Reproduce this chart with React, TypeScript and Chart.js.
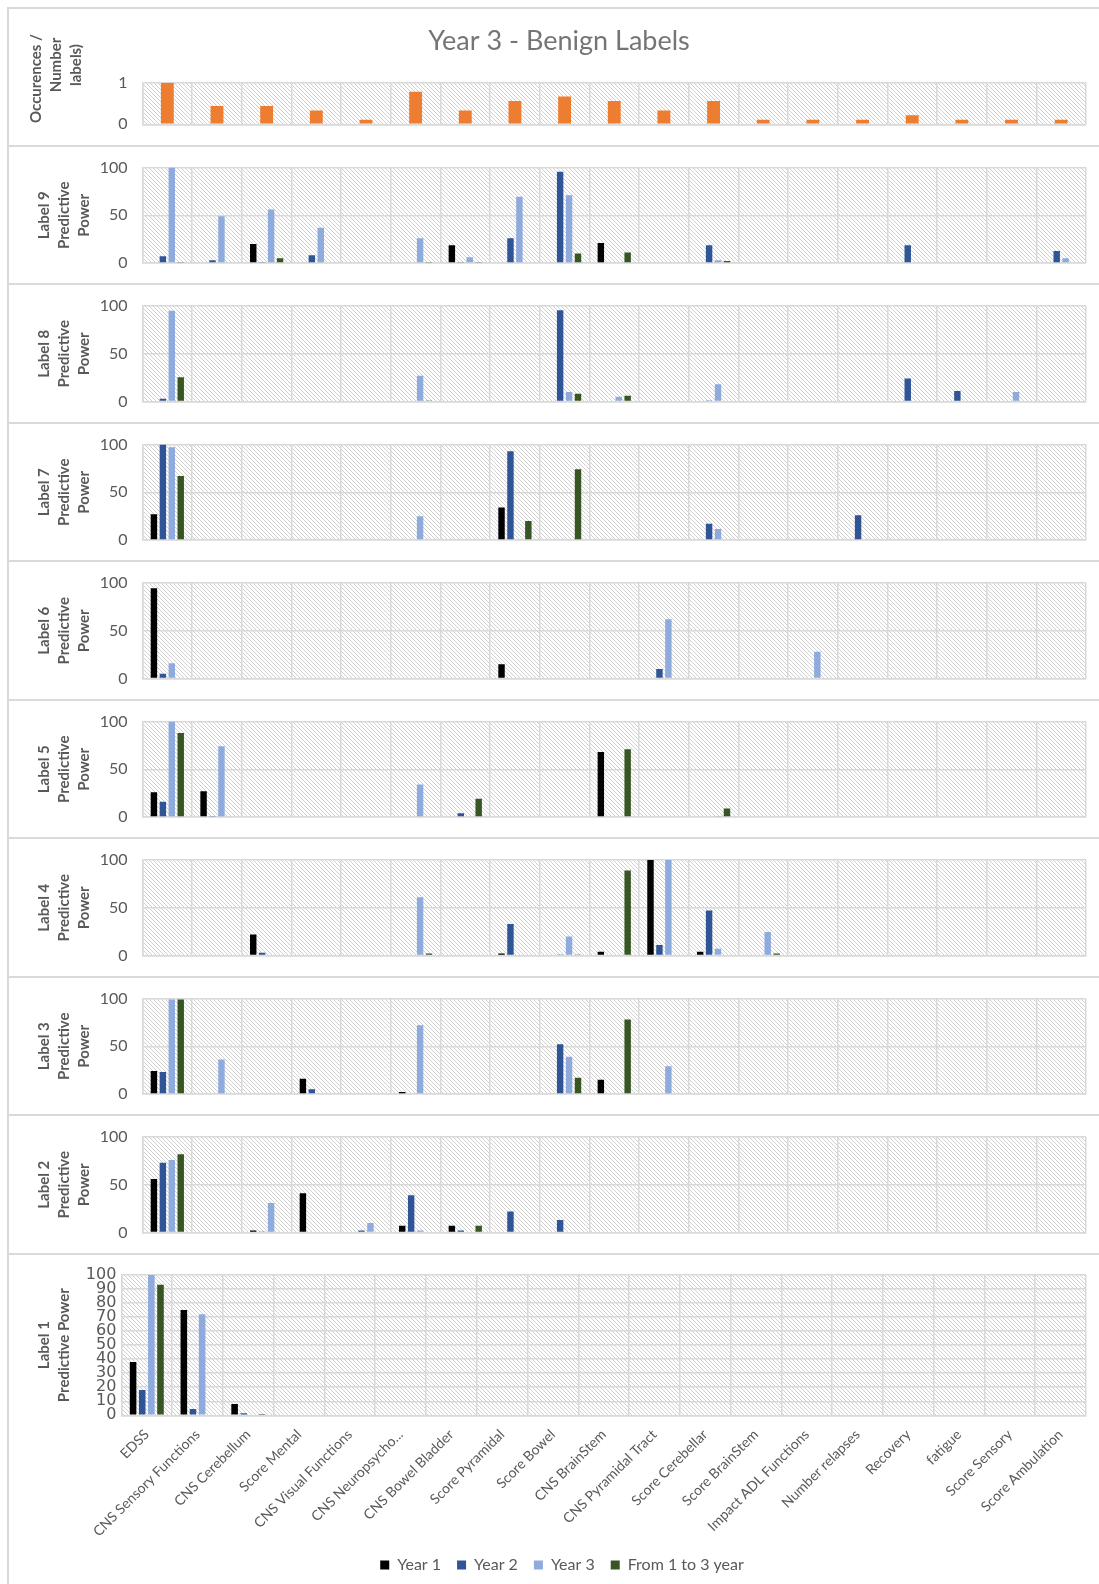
import React, { useEffect, useRef } from 'react';
import { Chart, registerables } from 'chart.js';

Chart.register(...registerables);
Chart.defaults.font.family = 'Lato, "Open Sans", sans-serif';

const n = null;

const categories = [
  'EDSS', 'CNS Sensory Functions', 'CNS Cerebellum', 'Score Mental', 'CNS Visual Functions',
  'CNS Neuropsycho...', 'CNS Bowel Bladder', 'Score Pyramidal', 'Score Bowel', 'CNS BrainStem',
  'CNS Pyramidal Tract', 'Score Cerebellar', 'Score BrainStem', 'Impact ADL Functions',
  'Number relapses', 'Recovery', 'fatigue', 'Score Sensory', 'Score Ambulation',
];

const seriesNames = ['Year 1', 'Year 2', 'Year 3', 'From 1 to 3 year'];
const seriesColors = ['#000000', '#2F5597', '#8FAADC', '#375623'];

const chartTitle = 'Year 3 - Benign Labels';
const occurrencesTitle = ['Occurences /', 'Number', 'labels)'];
const occurrences = [1, 0.44, 0.44, 0.33, 0.11, 0.78, 0.33, 0.56, 0.67, 0.56, 0.33, 0.56, 0.11, 0.11, 0.11, 0.22, 0.11, 0.11, 0.11];

const label9Year1 = [n, n, 20, n, n, n, 18.5, n, n, 21, n, n, n, n, n, n, n, n, n];
const label9Year2 = [7, 3, 1, 8, n, n, 1, 26, 95.5, n, n, 18.5, n, n, n, 18.5, n, n, 12.5];
const label9Year3 = [100, 49, 56, 37, n, 26, 6, 69.5, 71, n, n, 3, n, n, n, n, n, n, 5];
const label9From1To3 = [1, n, 5, n, n, 1, 1, n, 10, 11, n, 2, n, n, n, n, n, n, n];

const label8Year1 = [n, n, n, n, n, n, n, n, n, n, n, n, n, n, n, n, n, n, n];
const label8Year2 = [3, n, n, n, n, n, n, n, 95.5, n, n, 1, n, n, n, 24, 11, n, n];
const label8Year3 = [95, n, n, n, n, 27, n, n, 10, 5, n, 18, n, n, n, n, n, 10, n];
const label8From1To3 = [25.5, n, n, n, n, 1, n, n, 8, 6, n, n, n, n, n, n, n, n, n];

const label7Year1 = [27, n, n, n, n, n, n, 34, n, n, n, n, n, n, n, n, n, n, n];
const label7Year2 = [100, n, n, n, n, n, n, 93, n, n, n, 17, n, n, 26, n, n, n, n];
const label7Year3 = [97, n, n, n, n, 25, n, n, n, n, n, 11.5, n, n, n, n, n, n, n];
const label7From1To3 = [67, n, n, n, n, n, n, 20, 74, n, n, n, n, n, n, n, n, n, n];

const label6Year1 = [94.5, n, n, n, n, n, n, 15, n, n, 0.7, n, n, n, n, n, n, n, n];
const label6Year2 = [5, n, n, n, n, n, n, n, n, n, 10, n, n, n, n, n, n, n, n];
const label6Year3 = [16, n, n, n, n, n, n, n, n, n, 62, n, n, 28, n, n, n, n, n];
const label6From1To3 = [n, n, n, n, n, n, n, n, n, n, n, n, n, n, n, n, n, n, n];

const label5Year1 = [26, 27, n, n, n, n, n, n, n, 68, n, n, n, n, n, n, n, n, n];
const label5Year2 = [16, 1, n, n, n, n, 4, n, n, n, n, n, n, n, n, n, n, n, n];
const label5Year3 = [100, 74, n, n, n, 34, n, n, n, n, n, 1, n, n, n, n, n, n, n];
const label5From1To3 = [88, n, n, n, n, n, 19, n, n, 71, n, 9, n, n, n, n, n, n, n];

const label4Year1 = [n, n, 22, n, n, n, n, 2, n, 4, 100, 4, n, n, n, n, n, n, n];
const label4Year2 = [n, n, 3, n, n, n, n, 33, 1, n, 11, 47, n, n, n, n, n, n, n];
const label4Year3 = [n, n, n, n, n, 61, n, n, 20, n, 100, 7, 24.5, n, n, n, n, n, n];
const label4From1To3 = [n, n, n, n, n, 2, n, n, 1, 89, n, n, 2, n, n, n, n, n, n];

const label3Year1 = [24, n, n, 16, n, 2, n, n, n, 15, n, n, n, n, n, n, n, n, n];
const label3Year2 = [23, n, n, 5, n, n, n, n, 52, n, n, n, n, n, n, n, n, n, n];
const label3Year3 = [99, 36, n, n, n, 72, n, n, 39, n, 29, n, n, n, n, n, n, n, n];
const label3From1To3 = [99, n, n, n, n, n, n, n, 17, 78, n, n, n, n, n, n, n, n, n];

const label2Year1 = [56, n, 2, 41, n, 7, 7, n, n, n, n, n, n, n, n, n, n, n, n];
const label2Year2 = [73, n, 1, n, 2, 39, 2, 22, 13, n, n, n, n, n, n, n, n, n, n];
const label2Year3 = [76, n, 31, n, 10, 2, n, n, n, n, n, n, n, n, n, n, n, n, n];
const label2From1To3 = [82, n, n, n, n, n, 7, n, n, n, n, n, n, n, n, n, n, n, n];

const label1Year1 = [38, 75, 8, n, n, n, n, n, n, n, n, n, n, n, n, n, n, n, n];
const label1Year2 = [18, 4.5, 1.5, n, n, n, n, n, n, n, n, n, n, n, n, n, n, n, n];
const label1Year3 = [100, 72, n, n, n, n, n, n, n, n, n, n, n, n, n, n, n, n, n];
const label1From1To3 = [93, n, 1, n, n, n, n, n, n, n, n, n, n, n, n, n, n, n, n];

const upperPanels = [
  { title: ['Label 9', 'Predictive', 'Power'], series: [label9Year1, label9Year2, label9Year3, label9From1To3] },
  { title: ['Label 8', 'Predictive', 'Power'], series: [label8Year1, label8Year2, label8Year3, label8From1To3] },
  { title: ['Label 7', 'Predictive', 'Power'], series: [label7Year1, label7Year2, label7Year3, label7From1To3] },
  { title: ['Label 6', 'Predictive', 'Power'], series: [label6Year1, label6Year2, label6Year3, label6From1To3] },
  { title: ['Label 5', 'Predictive', 'Power'], series: [label5Year1, label5Year2, label5Year3, label5From1To3] },
  { title: ['Label 4', 'Predictive', 'Power'], series: [label4Year1, label4Year2, label4Year3, label4From1To3] },
  { title: ['Label 3', 'Predictive', 'Power'], series: [label3Year1, label3Year2, label3Year3, label3From1To3] },
  { title: ['Label 2', 'Predictive', 'Power'], series: [label2Year1, label2Year2, label2Year3, label2From1To3] },
];
const bottomTitle = ['Label 1', 'Predictive Power'];
const bottomSeries = [label1Year1, label1Year2, label1Year3, label1From1To3];

// ---- layout (page coordinates) ----
const W = 1091;
const LEFT = 8;
const GRID = '#D9D9D9';
const TICK = '#595959';
const ORANGE = '#ED7D31';
const SEPS = [145.5, 284, 422.5, 561, 699.5, 838, 976.5, 1115, 1253.5];

function makeHatch(ctx: CanvasRenderingContext2D) {
  const c = document.createElement('canvas');
  c.width = 4;
  c.height = 4;
  const g = c.getContext('2d')!;
  g.fillStyle = '#ffffff';
  g.fillRect(0, 0, 4, 4);
  g.fillStyle = '#D0D0D0';
  for (let i = 0; i < 4; i++) g.fillRect(i, i, 1, 1);
  return ctx.createPattern(c, 'repeat');
}

const hatchPlugin = {
  id: 'hatch',
  beforeDraw(chart: any) {
    const { ctx, chartArea: a } = chart;
    if (!a) return;
    ctx.save();
    ctx.fillStyle = makeHatch(ctx);
    ctx.fillRect(a.left, a.top, a.right - a.left, a.bottom - a.top);
    ctx.restore();
  },
};

function xScale(showTicks: boolean, height: number) {
  return {
    grid: { offset: true, color: GRID, lineWidth: 1.5, drawTicks: false },
    border: { color: GRID, width: 1.5 },
    ticks: showTicks
      ? { display: true, autoSkip: false, maxRotation: 45, minRotation: 45, padding: 11, color: TICK, font: { size: 14 } }
      : { display: false },
    afterFit: (s: any) => { s.height = height; },
  };
}

function yScale(max: number, step: number, title: string[] | null, width: number, pad: number, font: any) {
  return {
    min: 0,
    max,
    ticks: { stepSize: step, padding: pad, color: TICK, font, autoSkip: false },
    grid: { color: GRID, lineWidth: 1.5, drawTicks: false },
    border: { color: GRID, width: 1.5 },
    title: title
      ? { display: true, text: title, color: TICK, font: { size: 15, weight: 'bold', lineHeight: 1.333 }, padding: { top: 26.6, bottom: 0 } }
      : { display: false },
    afterFit: (s: any) => {
      s.width = width;
      s.paddingTop = 0;
      s.paddingBottom = 0;
    },
  };
}

function seriesDatasets(series: (number | null)[][]) {
  return seriesNames.map((name, i) => ({
    label: name,
    data: series[i],
    backgroundColor: seriesColors[i],
    borderWidth: 0,
    categoryPercentage: 0.72,
    barPercentage: 0.72,
  }));
}

function ChartPanel({ top, height, build }: { top: number; height: number; build: () => any }) {
  const ref = useRef<HTMLCanvasElement>(null);
  useEffect(() => {
    const chart = new Chart(ref.current as HTMLCanvasElement, build());
    return () => chart.destroy();
  }, []);
  return (
    <div style={{ position: 'absolute', left: LEFT, top, width: W, height }}>
      <canvas ref={ref} width={W} height={height} style={{ display: 'block' }} />
    </div>
  );
}

// Panel 1 (occurrences)
const P1_TOP = 9;
const P1_BOTTOM = 145;
function buildOccurrences() {
  const occTitlePlugin = {
    id: 'occTitle',
    afterDraw(chart: any) {
      const ctx = chart.ctx;
      const pos = [[36, 78.5], [56, 65], [76, 65]];
      ctx.save();
      ctx.fillStyle = TICK;
      ctx.font = 'bold 15px Lato';
      ctx.textAlign = 'center';
      ctx.textBaseline = 'middle';
      occurrencesTitle.forEach((t, i) => {
        ctx.save();
        ctx.translate(pos[i][0] - LEFT, pos[i][1] - P1_TOP);
        ctx.rotate(-Math.PI / 2);
        ctx.fillText(t, 0, 0);
        ctx.restore();
      });
      ctx.restore();
    },
  };
  const titleShift = {
    id: 'titleShift',
    afterLayout(chart: any) {
      if (chart.titleBlock) {
        chart.titleBlock.left += 12;
        chart.titleBlock.right += 12;
      }
    },
  };
  return {
    type: 'bar',
    data: {
      labels: categories,
      datasets: [{ label: 'Occurences', data: occurrences, backgroundColor: ORANGE, borderWidth: 0, categoryPercentage: 0.72, barPercentage: 0.36 }],
    },
    options: {
      responsive: false,
      animation: false,
      events: [],
      layout: { padding: { left: 0, right: 13, top: 0, bottom: P1_BOTTOM - 124.3 } },
      plugins: {
        legend: { display: false },
        tooltip: { enabled: false },
        title: { display: true, text: chartTitle, color: '#757575', font: { size: 27, weight: 'normal', lineHeight: 1.2 }, padding: { top: 16.2, bottom: 25.1 } },
      },
      scales: {
        x: xScale(false, 0),
        y: yScale(1, 1, null, 134.5, 15, { size: 16 }),
      },
    },
    plugins: [hatchPlugin, occTitlePlugin, titleShift],
  };
}

function buildUpper(idx: number, top: number, bottom: number) {
  const p = upperPanels[idx];
  const plotTop = SEPS[idx] + 22;
  const plotBottom = SEPS[idx] + 117.5;
  return {
    type: 'bar',
    data: { labels: categories, datasets: seriesDatasets(p.series) },
    options: {
      responsive: false,
      animation: false,
      events: [],
      layout: { padding: { left: 0, right: 13, top: plotTop - top, bottom: bottom - plotBottom } },
      plugins: { legend: { display: false }, tooltip: { enabled: false }, title: { display: false } },
      scales: {
        x: xScale(false, 0),
        y: yScale(100, 50, p.title, 134.5, 15, { size: 16 }),
      },
    },
    plugins: [hatchPlugin],
  };
}

const B_TOP = 1255;
const B_HEIGHT = 1584 - B_TOP;
function buildBottom() {
  const plotTop = 1275;
  const plotBottom = 1413.3;
  const legendTop = 1539;
  const legendShift = {
    id: 'legendShift',
    afterLayout(chart: any) {
      if (chart.legend) {
        chart.legend.left += 15;
        chart.legend.right += 15;
      }
    },
  };
  return {
    type: 'bar',
    data: { labels: categories, datasets: seriesDatasets(bottomSeries) },
    options: {
      responsive: false,
      animation: false,
      events: [],
      layout: { padding: { left: 0, right: 13, top: plotTop - B_TOP, bottom: 1 } },
      plugins: {
        tooltip: { enabled: false },
        title: { display: false },
        legend: {
          display: true,
          position: 'bottom',
          labels: { boxWidth: 9, boxHeight: 9, padding: 16, color: TICK, font: { size: 16 } },
        },
      },
      scales: {
        x: xScale(true, legendTop - plotBottom),
        y: yScale(100, 10, bottomTitle, 113.4, 5, { size: 16, family: '"DejaVu Sans"' }),
      },
    },
    plugins: [hatchPlugin, legendShift],
  };
}

export default function App() {
  const upper = upperPanels.map((_, i) => {
    const top = Math.round(SEPS[i]) + 1;
    const bottom = Math.round(SEPS[i + 1]) - 1;
    return <ChartPanel key={i} top={top} height={bottom - top} build={() => buildUpper(i, top, bottom)} />;
  });
  return (
    <div style={{ position: 'absolute', left: 0, top: 0, width: 1099, height: 1584, background: '#ffffff', overflow: 'hidden' }}>
      <ChartPanel top={P1_TOP} height={P1_BOTTOM - P1_TOP} build={buildOccurrences} />
      {upper}
      <ChartPanel top={B_TOP} height={B_HEIGHT} build={buildBottom} />
      <div style={{ position: 'absolute', left: 7, top: 7, width: 1092, height: 2, background: GRID }} />
      <div style={{ position: 'absolute', left: 7, top: 7, width: 2, height: 1577, background: GRID }} />
      {SEPS.map((s, i) => (
        <div key={i} style={{ position: 'absolute', left: 8, top: s - 1, width: 1091, height: 2, background: GRID }} />
      ))}
    </div>
  );
}
